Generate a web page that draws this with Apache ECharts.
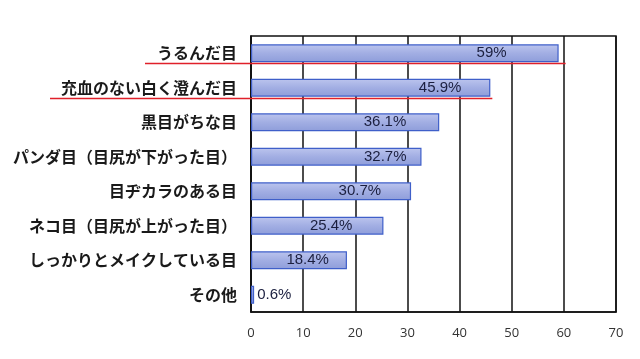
<!DOCTYPE html>
<html>
<head>
<meta charset="utf-8">
<script src="https://cdn.jsdelivr.net/npm/echarts@6/dist/echarts.min.js"></script>
<style>
html,body{margin:0;padding:0;background:#fff;}
#c{width:640px;height:359px;}
</style>
</head>
<body>
<div id="c"></div>
<script>
// Data (top to bottom as displayed)
const categories = [
  'うるんだ目',
  '充血のない白く澄んだ目',
  '黒目がちな目',
  'パンダ目（目尻が下がった目）',
  '目ヂカラのある目',
  'ネコ目（目尻が上がった目）',
  'しっかりとメイクしている目',
  'その他'
];
const values = [59, 45.9, 36.1, 32.7, 30.7, 25.4, 18.4, 0.6];
const valueLabels = ['59%', '45.9%', '36.1%', '32.7%', '30.7%', '25.4%', '18.4%', '0.6%'];
const xTicks = [0, 10, 20, 30, 40, 50, 60, 70];
// label inset from bar end (style)
const labelInset = [52, 29, 33, 15, 30, 31, 18, 3];
const underlined = [0, 1];

const chart = echarts.init(document.getElementById('c'));

const barFill = new echarts.graphic.LinearGradient(0, 0, 0, 1, [
  {offset: 0, color: '#bcc5ee'},
  {offset: 0.5, color: '#a2aee3'},
  {offset: 1, color: '#8e9dda'}
]);

const data = values.map((v, i) => ({
  value: v,
  label: i === values.length - 1
    ? {position: 'right', distance: labelInset[i]}
    : {position: 'insideRight', distance: labelInset[i]}
}));

chart.setOption({
  animation: false,
  grid: {left: 251, right: 24, top: 36, bottom: 47, containLabel: false,
         show: true, borderColor: '#111', borderWidth: 1.5},
  xAxis: {
    type: 'value', min: xTicks[0], max: xTicks[xTicks.length - 1], interval: 10,
    axisLine: {show: true, lineStyle: {color: '#111', width: 1.5}},
    axisTick: {show: false},
    splitLine: {show: true, lineStyle: {color: '#111', width: 1.5}},
    axisLabel: {color: '#333', fontSize: 13, fontFamily: 'Open Sans', margin: 15}
  },
  yAxis: {
    type: 'category', data: categories, inverse: true,
    axisLine: {show: true, lineStyle: {color: '#111', width: 1.5}},
    axisTick: {show: false},
    axisLabel: {color: '#1a1a1a', fontSize: 16, fontWeight: 'bold',
                fontFamily: '"Noto Sans CJK JP"', margin: 14}
  },
  series: [{
    type: 'bar', data: data, barWidth: '52%',
    itemStyle: {color: barFill, borderColor: '#3f5fc9', borderWidth: 1.2},
    label: {show: true, formatter: p => valueLabels[p.dataIndex],
            color: '#1b1f3f', fontSize: 15, fontFamily: '"Liberation Sans Narrow", "Liberation Sans"'}
  }]
});

// red underline annotations under selected categories
const band = chart.convertToPixel({yAxisIndex: 0}, categories[1]) - chart.convertToPixel({yAxisIndex: 0}, categories[0]);
const starts = [145, 50];
const graphics = underlined.map((idx, k) => {
  const yc = chart.convertToPixel({yAxisIndex: 0}, categories[idx]);
  const y = Math.round(yc + band * 0.29) + 0.5;
  const xEnd = chart.convertToPixel({xAxisIndex: 0}, values[idx]) + (k === 0 ? 7 : 2);
  return {type: 'line', shape: {x1: starts[k], y1: y, x2: xEnd, y2: y},
          style: {stroke: '#e0202a', lineWidth: 1.6}, z: 100};
});
chart.setOption({graphic: graphics});
</script>
</body>
</html>
